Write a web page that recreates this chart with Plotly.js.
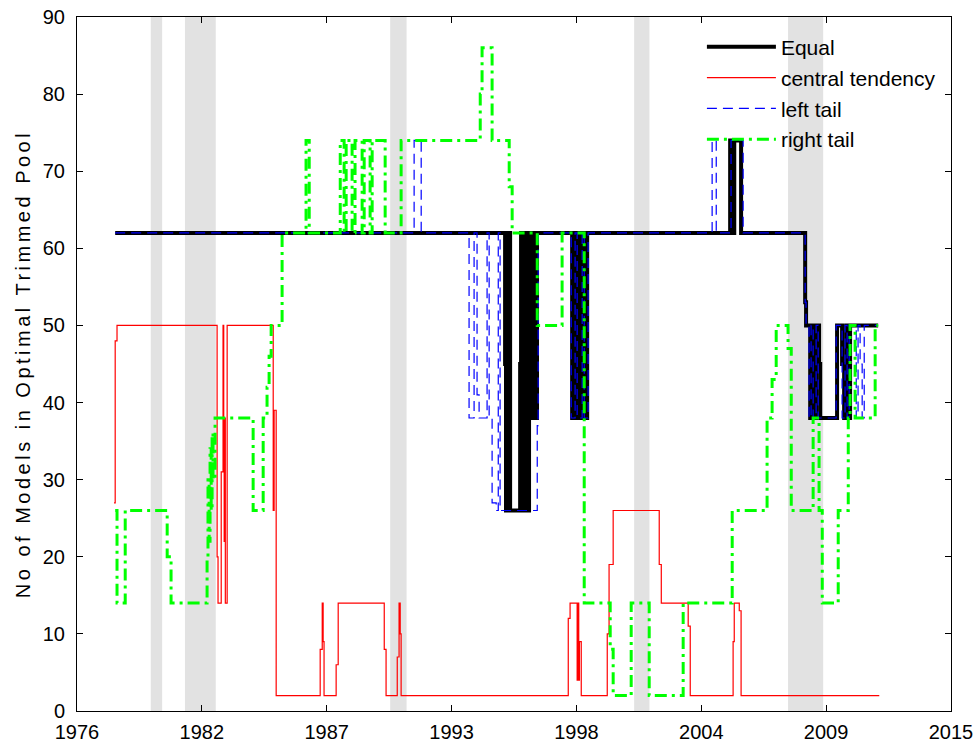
<!DOCTYPE html>
<html>
<head>
<meta charset="utf-8">
<script src="https://cdn.plot.ly/plotly-3.0.1.min.js"></script>
<style>html,body{margin:0;padding:0;background:#fff;}#chart{width:976px;height:746px;}
.ytitle{letter-spacing:3.5px;}</style>
</head>
<body>
<div id="chart"></div>
<script>
// x axis: decimal years (MATLAB datenum ticks every 2000 days)
const tickYears = [1976.765, 1982.241, 1987.718, 1993.192, 1998.668, 2004.145, 2009.619, 2015.096];
const tickLabels = ['1976', '1982', '1987', '1993', '1998', '2004', '2009', '2015'];

// NBER recession bands
const recStart = [1980.0, 1981.5, 1990.5, 2001.2, 2007.95];
const recEnd   = [1980.5, 1982.85, 1991.22, 2001.87, 2009.49];

// Equal
const equalX = [1978.44, 1995.54, 1995.58, 1995.67, 1995.76, 1996.20, 1996.24, 1996.33, 1996.42, 1996.50, 1996.59, 1996.64, 1996.73, 1996.81, 1996.90, 1996.94,
  1998.48, 1998.57, 1998.66, 1998.79, 1998.88, 1999.01, 1999.05, 1999.14, 2005.41, 2005.54, 2005.59, 2005.89,
  2008.70, 2008.74, 2008.92, 2009.01, 2009.09, 2009.18, 2009.31, 2009.36, 2010.10, 2010.32, 2010.41, 2010.50, 2010.59, 2010.67, 2011.90];
const equalY = [62, 45, 26, 62, 26, 45, 62, 26, 62, 26, 45, 62, 38, 62, 38, 62,
  38, 62, 38, 62, 38, 62, 38, 62, 74, 62, 74, 62,
  53, 50, 38, 50, 38, 50, 45, 38, 50, 45, 38, 50, 38, 50, 50];

// central tendency
const centralX = [1978.39, 1978.44, 1978.52, 1982.91, 1982.95, 1983.09, 1983.17, 1983.20, 1983.22, 1983.24, 1983.27, 1983.35,
  1985.37, 1985.41, 1985.50, 1987.43, 1987.52, 1987.56, 1987.60, 1988.13, 1988.22, 1990.24, 1990.32, 1990.81, 1990.89, 1990.94, 1990.98,
  1998.31, 1998.39, 1998.70, 1998.74, 1998.77, 1998.80, 1998.88, 2000.02, 2000.10, 2000.28, 2002.30, 2002.39, 2003.57, 2003.66,
  2005.54, 2005.59, 2005.81, 2005.89, 2011.95];
const centralY = [27, 48, 50, 20, 14, 31, 50, 38, 22, 38, 14, 50,
  26, 39, 2, 8, 14, 9, 2, 6, 14, 8, 2, 7, 14, 10, 2,
  12, 14, 4, 14, 4, 9, 2, 10, 19, 26, 19, 14, 11, 2,
  9, 14, 13, 2, 2];

// left tail
const leftX = [1978.44, 1991.55, 1991.86, 1993.96, 1994.18, 1994.31, 1994.40, 1994.75, 1994.84, 1994.97, 1995.15, 1995.24, 1995.32, 1996.95, 1996.99,
  1998.44, 1998.61, 1998.70, 1998.92, 1999.01, 1999.18, 2004.62, 2004.80, 2005.45, 2005.98,
  2008.70, 2008.74, 2008.87, 2008.96, 2009.05, 2009.18, 2009.27, 2010.06, 2010.32, 2010.45, 2010.54, 2010.63, 2010.94, 2011.02, 2011.11, 2011.20, 2011.29, 2011.90];
const leftY = [62, 74, 62, 38, 62, 41, 38, 62, 38, 27, 26, 62, 26, 37, 62,
  38, 62, 38, 62, 38, 62, 74, 62, 74, 62,
  53, 50, 38, 50, 38, 50, 38, 50, 38, 50, 38, 50, 38, 50, 45, 38, 50, 50];

// right tail
const rightX = [1978.44, 1978.52, 1978.88, 1980.72, 1980.89, 1982.47, 1982.51, 1982.56, 1982.60, 1982.65, 1982.69, 1982.73, 1982.82,
  1984.49, 1984.93, 1985.10, 1985.19, 1985.28, 1985.76, 1986.81, 1986.95,
  1988.31, 1988.48, 1988.57, 1988.83, 1988.96, 1989.27, 1989.36, 1989.62, 1989.71, 1990.28, 1990.98,
  1994.45, 1994.53, 1994.97, 1995.72, 1995.85, 1996.95, 1998.04, 1999.01, 2000.15, 2000.28, 2001.07, 2001.86, 2003.35,
  2005.50, 2007.03, 2007.25, 2007.43, 2007.95, 2008.09, 2009.05, 2009.31, 2009.45, 2010.15, 2010.59, 2010.67, 2010.89, 2011.77, 2011.90];
const rightY = [26, 14, 26, 20, 14, 20, 30, 22, 34, 26, 36, 30, 38,
  26, 38, 42, 46, 50, 62, 74, 62,
  74, 62, 74, 62, 74, 62, 74, 62, 74, 62, 74,
  80, 86, 74, 68, 62, 50, 62, 14, 8, 2, 14, 2, 14,
  26, 38, 43, 50, 47, 26, 38, 26, 14, 26, 38, 50, 38, 50, 50];

const FONT = 'Liberation Sans, Arial, sans-serif';

const traces = [
  {x: equalX, y: equalY, name: 'Equal', mode: 'lines', line: {color: '#000000', width: 4, shape: 'hv'}, legendgroup: 'a'},
  {x: centralX, y: centralY, name: 'central tendency', mode: 'lines', line: {color: '#ff0000', width: 1.2, shape: 'hv'}, legendgroup: 'b'},
  {x: leftX, y: leftY, name: 'left tail', mode: 'lines', line: {color: '#0000ff', width: 1.2, shape: 'hv', dash: '10px,6px'}, legendgroup: 'c'},
  {x: rightX, y: rightY, name: 'right tail', mode: 'lines', line: {color: '#00ff00', width: 3, shape: 'hv', dash: '12px,5px,3px,5px'}, legendgroup: 'd'}
];

const shapes = recStart.map((s, i) => ({
  type: 'rect', xref: 'x', yref: 'paper', x0: s, x1: recEnd[i], y0: 0, y1: 1,
  fillcolor: '#e2e2e2', line: {width: 0}, layer: 'below'
}));

const layout = {
  width: 976, height: 746,
  margin: {l: 77, r: 25, t: 17, b: 35},
  paper_bgcolor: '#ffffff', plot_bgcolor: '#ffffff',
  font: {family: FONT, size: 20, color: '#000'},
  showlegend: true,
  legend: {x: 0.715, y: 0.986, xanchor: 'left', yanchor: 'top', bgcolor: 'rgba(0,0,0,0)', borderwidth: 0,
    font: {family: FONT, size: 21}, itemwidth: 69, tracegroupgap: 0.5},
  xaxis: {range: [tickYears[0], tickYears[tickYears.length - 1]], tickmode: 'array', tickvals: tickYears, ticktext: tickLabels,
    ticks: 'inside', ticklen: 6, tickcolor: '#000', showline: true, linecolor: '#000', linewidth: 1, mirror: 'ticks',
    showgrid: false, zeroline: false, tickfont: {family: FONT, size: 20}, ticklabelstandoff: 3},
  yaxis: {range: [0, 90], dtick: 10, ticks: 'inside', ticklen: 6, tickcolor: '#000', showline: true, linecolor: '#000', linewidth: 1,
    mirror: 'ticks', showgrid: false, zeroline: false, tickfont: {family: FONT, size: 20}, ticklabelstandoff: 7,
    title: {text: 'No of Models in Optimal Trimmed Pool', font: {family: FONT, size: 20}, standoff: 6}},
  shapes: shapes
};

Plotly.newPlot('chart', traces, layout, {displayModeBar: false, staticPlot: true});
</script>
</body>
</html>
